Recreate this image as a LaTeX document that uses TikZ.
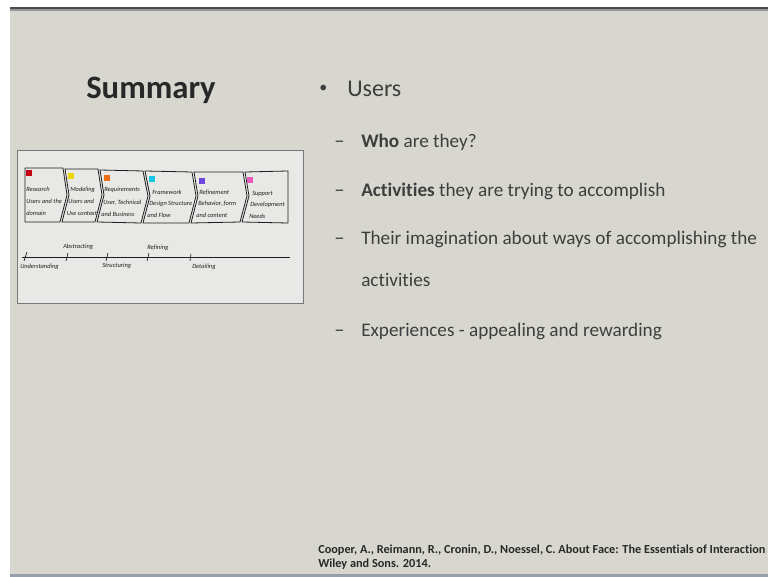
\documentclass[tikz,border=0pt]{standalone}
\usepackage{fontspec}
\setmainfont[Ligatures=NoCommon]{Carlito}
\definecolor{slidebg}{RGB}{216,215,207}
\definecolor{topbar}{RGB}{74,74,80}
\definecolor{botline}{RGB}{150,158,172}
\definecolor{titlec}{RGB}{40,40,40}
\definecolor{bodyc}{RGB}{62,62,62}
\definecolor{sketchbg}{RGB}{232,232,230}
\definecolor{sketchframe}{RGB}{120,120,120}
\definecolor{pen}{RGB}{30,30,30}
\definecolor{mkred}{RGB}{200,0,20}
\definecolor{mkyellow}{RGB}{235,215,0}
\definecolor{mkorange}{RGB}{235,110,20}
\definecolor{mkcyan}{RGB}{20,200,230}
\definecolor{mkpurple}{RGB}{110,70,220}
\definecolor{mkpink}{RGB}{230,90,190}
\tikzset{
  bodytext/.style={anchor=base west,inner sep=0,text=bodyc,font=\fontsize{14.4}{17}\selectfont},
  dashmark/.style={anchor=base west,inner sep=0,text=bodyc,font=\fontsize{15.5}{17}\selectfont},
  hand/.style={anchor=base west,inner sep=0,text=pen,font=\itshape\fontsize{4.8}{5.5}\selectfont},
  chev/.style={draw=pen,line width=0.6pt,line join=round},
  marker/.style={inner sep=0,minimum size=3.8pt,draw=none},
  tick/.style={draw=pen,line width=0.5pt},
  reftext/.style={anchor=base west,inner sep=0,text=titlec,font=\bfseries\fontsize{9.2}{10.5}\selectfont}
}
\begin{document}
\begin{tikzpicture}[x=0.75pt,y=-0.75pt]
\useasboundingbox (0,0) rectangle (768,577);
\clip (0,0) rectangle (768,577);
% page, slide area and its edges
\fill[white] (0,0) rectangle (768,577);
\fill[slidebg] (10,7) rectangle (768,577);
\fill[topbar] (10,7) rectangle (768,9.5);
\fill[topbar!45!slidebg] (10,9.5) rectangle (768,11.5);
\fill[botline] (10,573.5) rectangle (768,577);

% title
\node[anchor=base west,inner sep=0,text=titlec,font=\bfseries\fontsize{24.5}{29}\selectfont] (title) at (86,99) {Summary};

% bullet list
\node[anchor=base west,inner sep=0,text=bodyc,font=\fontsize{12}{14}\selectfont] (dot) at (319,93) {•};
\node[anchor=base west,inner sep=0,text=bodyc,font=\fontsize{18}{21}\selectfont] (users) at (347,97) {Users};

\node[dashmark] (d1) at (334,148) {–};
\node[bodytext] (i1) at (361,148) {\textbf{Who} are they?};
\node[dashmark] (d2) at (334,197) {–};
\node[bodytext] (i2) at (361,197) {\textbf{Activities} they are trying to accomplish};
\node[dashmark] (d3) at (334,245) {–};
\node[bodytext] (i3) at (361,245) {Their imagination about ways of accomplishing the};
\node[bodytext] (i3b) at (361,287) {activities};
\node[dashmark] (d4) at (334,337) {–};
\node[bodytext] (i4) at (361,337) {Experiences - appealing and rewarding};

% reference line at the foot
\node[reftext] (ref1) at (318,553) {Cooper, A., Reimann, R., Cronin, D., Noessel, C. About Face: The Essentials of Interaction};
\node[reftext] (ref2) at (318,567) {Wiley and Sons. 2014.};

% sketch of the design process
\fill[sketchbg] (17,150) rectangle (303,303);
\draw[sketchframe,line width=0.6pt] (17,150) rectangle (303,303);

% chevron steps
\draw[chev] (25,168) -- (63,168) -- (67,195) -- (60,222) -- (25,222) -- cycle;
\draw[chev] (65,169) -- (98,169) -- (102,195) -- (95,222) -- (62,222) -- (69,195) -- cycle;
\draw[chev] (100,170) -- (143,171) -- (148,196) -- (141,223) -- (97,222) -- (104,195) -- cycle;
\draw[chev] (145,171) -- (192,172) -- (196,196) -- (189,223) -- (143,223) -- (150,196) -- cycle;
\draw[chev] (194,172) -- (243,172) -- (247,196) -- (240,222) -- (191,223) -- (198,196) -- cycle;
\draw[chev] (245,172) -- (288,171) -- (288,223) -- (242,222) -- (249,196) -- cycle;

% coloured markers
\node[marker,fill=mkred] (m1) at (29,173) {};
\node[marker,fill=mkyellow] (m2) at (71,176) {};
\node[marker,fill=mkorange] (m3) at (107,178) {};
\node[marker,fill=mkcyan] (m4) at (152,179) {};
\node[marker,fill=mkpurple] (m5) at (202,181) {};
\node[marker,fill=mkpink] (m6) at (250,180) {};

% handwritten step labels
\node[hand] (r1) at (26,192) {Research};
\node[hand] (r2) at (26,204) {Users and the};
\node[hand] (r3) at (26,216) {domain};
\node[hand] (o1) at (70,192) {Modeling};
\node[hand] (o2) at (68,204) {Users and};
\node[hand] (o3) at (66.5,216) {Use context};
\node[hand] (q1) at (104,192) {Requirements};
\node[hand] (q2) at (103,205) {User, Technical};
\node[hand] (q3) at (101,217) {and Business};
\node[hand] (f1) at (152,195) {Framework};
\node[hand] (f2) at (149,206) {Design Structure};
\node[hand] (f3) at (147,218) {and Flow};
\node[hand] (e1) at (199,195) {Refinement};
\node[hand] (e2) at (198,206) {Behavior, form};
\node[hand] (e3) at (196,218) {and content};
\node[hand] (s1) at (252,196) {Support};
\node[hand] (s2) at (250,207) {Development};
\node[hand] (s3) at (249,219) {Needs};

% time line with its stages
\coordinate (tl0) at (22,257);
\coordinate (tl1) at (290,257);
\draw[pen,line width=0.6pt] (tl0) -- (tl1);
\draw[tick] (24,261) -- (27,252);
\draw[tick] (66,261) -- (68,253);
\draw[tick] (106,261) -- (108,253);
\draw[tick] (147,261) -- (149,253);
\draw[tick] (190,261) -- (191,254);
\node[hand] (u1) at (20,269) {Understanding};
\node[hand] (u2) at (63,249) {Abstracting};
\node[hand] (u3) at (102,268) {Structuring};
\node[hand] (u4) at (147,250) {Refining};
\node[hand] (u5) at (192,269) {Detailing};
\end{tikzpicture}
\end{document}
